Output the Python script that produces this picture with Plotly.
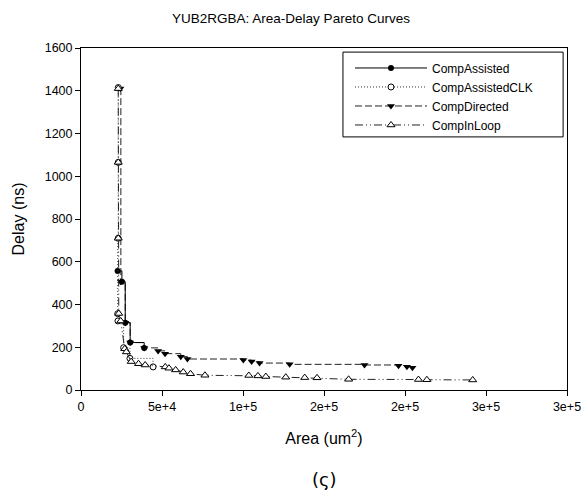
import plotly.graph_objects as go

# ---- data ----
assisted_x = [22600, 25250, 27300, 30350, 39000]
assisted_y = [557, 507, 315, 222, 197]

clk_x = [23000, 23000, 23000, 22700, 22800, 26300, 30200, 44500]
clk_y = [1415, 1065, 710, 357, 323, 198, 148, 108]

directed_x = [24300, 24600, 27300, 30350, 39000, 47600, 51900, 61600, 65700, 100200,
              105300, 110200, 128800, 175000, 196000, 201200, 204600]
directed_y = [1410, 507, 315, 222, 197, 183, 170, 156, 145, 140, 133, 126, 120, 117,
              114, 109, 104]

inloop_x = [23000, 23000, 23000, 23300, 24500, 27000, 28000, 31000, 35500, 39600,
            52000, 54300, 58400, 63100, 67600, 76500, 103600, 109200, 114100,
            126400, 138100, 145700, 165200, 208300, 213500, 241800]
inloop_y = [1410, 1065, 710, 358, 323, 193, 178, 133, 123, 117, 108, 102, 94, 84,
            76, 69, 68, 66, 63, 60, 58, 57, 50, 49, 48, 47]

x_tickvals = [0, 50000, 100000, 150000, 200000, 250000, 300000]
x_ticktext = ['0', '5e+4', '1e+5', '2e+5', '2e+5', '3e+5', '3e+5']
y_tickvals = [0, 200, 400, 600, 800, 1000, 1200, 1400, 1600]

FONT = "Liberation Sans, Arial, sans-serif"

fig = go.Figure()

fig.add_trace(go.Scatter(
    x=directed_x, y=directed_y, name="CompDirected", mode="lines+markers",
    line=dict(color="#222", width=1, dash="7px,3px"), line_shape="hv",
    marker=dict(symbol="triangle-down", size=7, color="black"), legendrank=3))
fig.add_trace(go.Scatter(
    x=assisted_x, y=assisted_y, name="CompAssisted", mode="lines+markers",
    line=dict(color="black", width=1), line_shape="hv",
    marker=dict(symbol="circle", size=6, color="black"), legendrank=1))
fig.add_trace(go.Scatter(
    x=clk_x, y=clk_y, name="CompAssistedCLK", mode="lines+markers",
    line=dict(color="#333", width=1, dash="1px,2px"), line_shape="hv",
    marker=dict(symbol="circle", size=6, color="white",
                line=dict(width=1, color="black")), legendrank=2))
fig.add_trace(go.Scatter(
    x=inloop_x, y=inloop_y, name="CompInLoop", mode="lines+markers",
    line=dict(color="#222", width=1, dash="8px,3px,1px,3px,1px,3px"),
    marker=dict(symbol="triangle-up", size=7, color="white",
                line=dict(width=1, color="black")), legendrank=4))

fig.update_layout(
    width=582, height=495,
    margin=dict(l=81, r=15, t=48, b=105, autoexpand=False),
    paper_bgcolor="white", plot_bgcolor="white",
    font=dict(family=FONT, size=12, color="black"),
    title=dict(text="YUB2RGBA: Area-Delay Pareto Curves", x=0.5, xanchor="center",
               y=0.963, yanchor="middle", font=dict(size=13.5, family=FONT)),
    showlegend=True,
    legend=dict(x=0.5535, y=0.984, xanchor="left", yanchor="top",
                borderwidth=0, bgcolor="rgba(0,0,0,0)",
                font=dict(size=12, family=FONT), itemwidth=72,
                tracegroupgap=0, traceorder="normal"),
    xaxis=dict(range=[0, 300000], tickvals=x_tickvals, ticktext=x_ticktext,
               showgrid=False, zeroline=False, showline=True, linecolor="black",
               linewidth=1, mirror=True, ticks="outside", ticklen=5,
               tickcolor="black", tickfont=dict(size=12.5),
               title=dict(text="Area (um<sup>2</sup>)", font=dict(size=16), standoff=19)),
    yaxis=dict(range=[0, 1600], tickvals=y_tickvals,
               showgrid=False, zeroline=False, showline=True, linecolor="black",
               linewidth=1, mirror=True, ticks="outside", ticklen=5,
               tickcolor="black", tickfont=dict(size=12.5),
               title=dict(text="Delay (ns)", font=dict(size=16), standoff=16)),
    shapes=[dict(type="rect", xref="paper", yref="paper", x0=0.539, x1=0.992,
                 y0=0.740, y1=0.988, line=dict(color="black", width=1),
                 fillcolor="rgba(0,0,0,0)", layer="above")],
)

fig.add_annotation(text="(ς)", xref="paper", yref="paper", x=0.5, y=-0.263,
                   xanchor="center", yanchor="middle", showarrow=False,
                   font=dict(size=18, family="DejaVu Sans", color="black"))

fig.write_html("out.html")
